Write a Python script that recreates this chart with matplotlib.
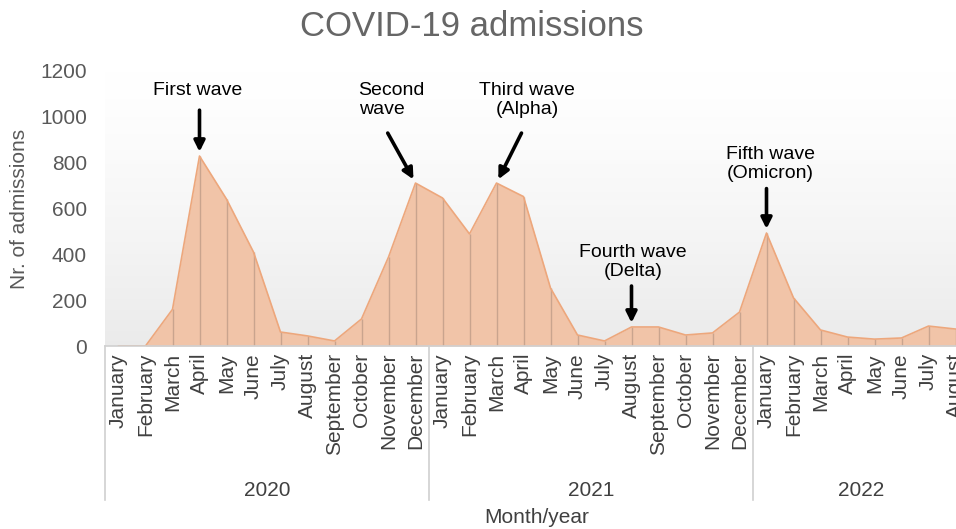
import numpy as np
import matplotlib
matplotlib.use("Agg")
import matplotlib.pyplot as plt
from matplotlib.transforms import blended_transform_factory

plt.rcParams['font.family'] = ['Liberation Sans', 'DejaVu Sans']

months = ["January", "February", "March", "April", "May", "June", "July",
          "August", "September", "October", "November", "December"]
years = ["2020", "2021", "2022"]
months_per_year = [12, 12, 8]

admissions_2020 = [0, 0, 160, 829, 641, 410, 61, 44, 22, 118, 388, 711]
admissions_2021 = [646, 489, 711, 652, 253, 48, 22, 83, 83, 48, 57, 148]
admissions_2022 = [493, 210, 70, 39, 30, 35, 87, 74]

wave_labels = ["First wave", "Second\nwave", "Third wave\n(Alpha)",
               "Fourth wave\n(Delta)", "Fifth wave\n(Omicron)"]
wave_index = [3, 11, 14, 19, 24]

values = np.array(admissions_2020 + admissions_2021 + admissions_2022, dtype=float)
labels = []
for n in months_per_year:
    labels += months[:n]
x = np.arange(len(values))

W, H = 956, 529
fig = plt.figure(figsize=(W / 100, H / 100), dpi=100)
left_px, right_px, top_px, bottom_px = 105, 969, 71, 346
ax = fig.add_axes([left_px / W, 1 - bottom_px / H,
                   (right_px - left_px) / W, (bottom_px - top_px) / H])

# gradient background
grad = np.linspace(0, 1, 256).reshape(-1, 1)
top_c = np.array([1.0, 1.0, 1.0])
bot_c = np.array([0.92, 0.92, 0.92])
g = grad ** 1.3
img = top_c * (1 - g)[..., None] + bot_c * g[..., None]
img = img.reshape(256, 1, 3)
ax.imshow(img, extent=[0, 1, 0, 1], transform=ax.transAxes, aspect='auto',
          zorder=0, origin='upper')

ax.fill_between(x, 0, values, color='#f1c4a8', zorder=2, linewidth=0)
ax.plot(x, values, color='#eda77c', lw=1.2, zorder=3)
ax.vlines(x, 0, values, color='#c9a48e', lw=1.0, zorder=2.5)

ax.set_xlim(-0.5, len(values) - 0.5)
ax.set_ylim(0, 1200)
ax.set_yticks(np.arange(0, 1201, 200))
ax.tick_params(axis='y', length=0, pad=13, labelsize=15, labelcolor='#595959')
ax.set_xticks(x)
ax.set_xticklabels(labels, rotation=90, fontsize=15, color='#404040')
ax.tick_params(axis='x', length=0, pad=5)
for s in ['top', 'right', 'left']:
    ax.spines[s].set_visible(False)
ax.spines['bottom'].set_color('#d0d0d0')
ax.spines['bottom'].set_linewidth(1.2)
ax.spines['bottom'].set_zorder(4)
ax.set_ylabel("Nr. of admissions", fontsize=15, color='#595959', labelpad=8)

trans = blended_transform_factory(ax.transData, ax.transAxes)
start = -0.5
bounds = [start]
for n in months_per_year:
    bounds.append(bounds[-1] + n)
for b in bounds:
    ax.plot([b, b], [0, -0.56], transform=trans, color='#d0d0d0', lw=1.2,
            clip_on=False)
for i, yr in enumerate(years):
    c = (bounds[i] + bounds[i + 1]) / 2
    ax.text(c, -0.527, yr, transform=trans, ha='center', va='center',
            fontsize=15, color='#404040')
ax.text(0.5, -0.622, "Month/year", transform=ax.transAxes, ha='center',
        va='center', fontsize=15, color='#404040')

fig.text(472 / W, 1 - 27 / H, "COVID-19 admissions", ha='center', va='center',
         fontsize=25, color='#666666')

arrow_tail = [(0, 33), (-20, 36), (18, 36), (0, 29.5), (0, 32)]
text_off = [(-1.4, 47), (-41, 60), (22, 60), (1, 47), (3, 50)]
text_ha = ['center', 'left', 'center', 'center', 'center']
for lab, idx, tail, toff, ha in zip(wave_labels, wave_index, arrow_tail,
                                     text_off, text_ha):
    v = values[idx]
    ax.annotate('', xy=(idx, v), xytext=tail, textcoords='offset points',
                arrowprops=dict(arrowstyle='-|>', lw=2.6, color='black',
                                mutation_scale=16, shrinkA=0, shrinkB=3),
                zorder=6, annotation_clip=False)
    ax.annotate(lab, xy=(idx, v), xytext=toff, textcoords='offset points',
                ha=ha, va='center', multialignment=ha, fontsize=14,
                color='black', linespacing=1.15, zorder=6,
                annotation_clip=False)

fig.savefig("out.png", dpi=100)
